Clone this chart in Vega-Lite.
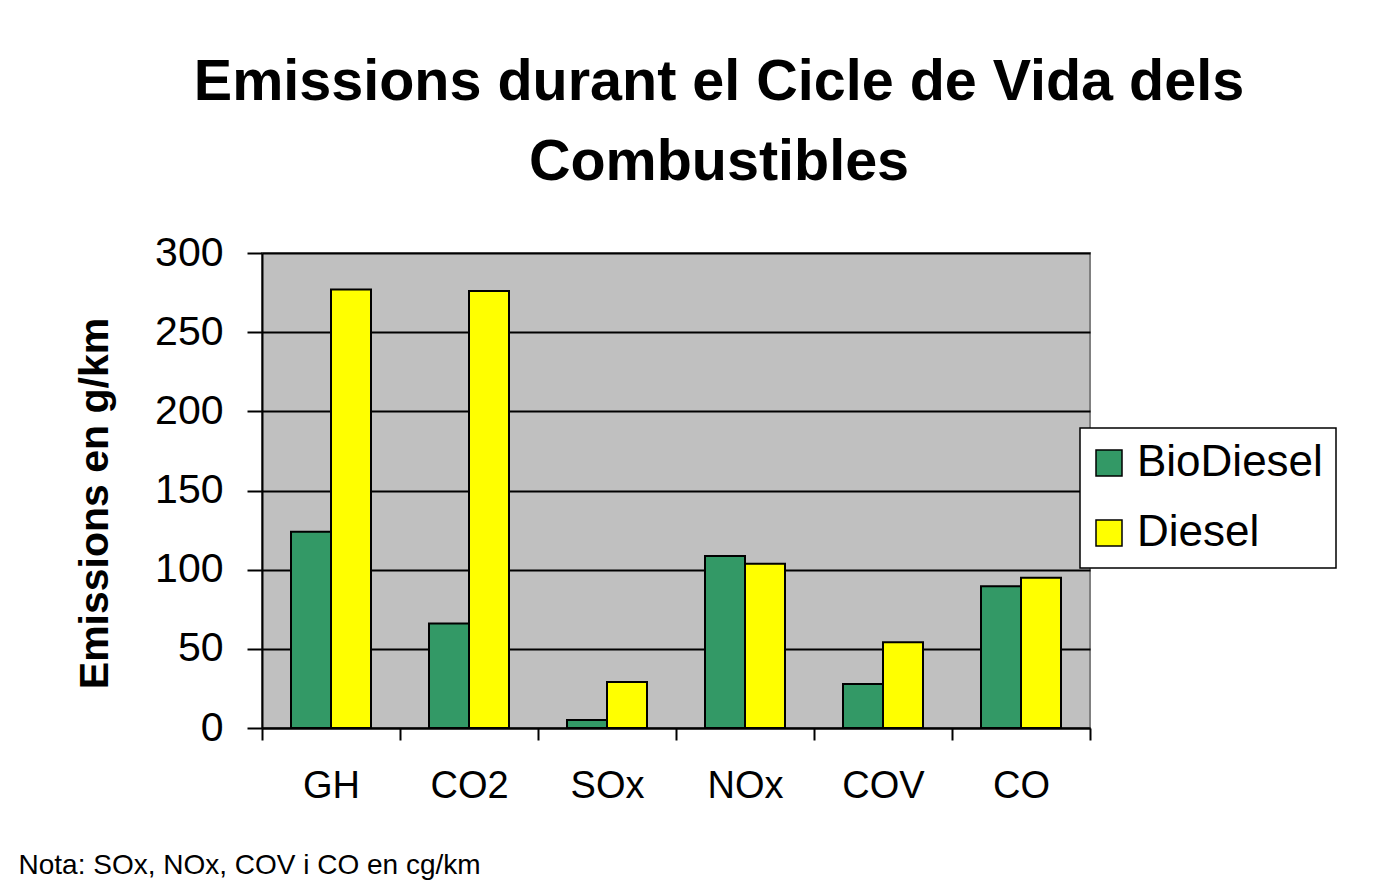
{
  "$schema": "https://vega.github.io/schema/vega-lite/v6.json",
  "width": 828,
  "height": 475,
  "autosize": {"type": "none"},
  "padding": {"left": 262, "top": 253, "right": 309, "bottom": 163},
  "background": "white",
  "title": {
    "text": ["Emissions durant el Cicle de Vida dels", "Combustibles"],
    "font": "Liberation Sans",
    "fontSize": 57.5,
    "fontWeight": "bold",
    "color": "black",
    "lineHeight": 80,
    "anchor": "middle",
    "frame": "group",
    "dx": 43,
    "offset": 40
  },
  "data": {
    "values": [
      {"pollutant": "GH", "fuel": "BioDiesel", "value": 124},
      {"pollutant": "GH", "fuel": "Diesel", "value": 277},
      {"pollutant": "CO2", "fuel": "BioDiesel", "value": 66},
      {"pollutant": "CO2", "fuel": "Diesel", "value": 276},
      {"pollutant": "SOx", "fuel": "BioDiesel", "value": 5},
      {"pollutant": "SOx", "fuel": "Diesel", "value": 29},
      {"pollutant": "NOx", "fuel": "BioDiesel", "value": 108.6},
      {"pollutant": "NOx", "fuel": "Diesel", "value": 103.7},
      {"pollutant": "COV", "fuel": "BioDiesel", "value": 27.8},
      {"pollutant": "COV", "fuel": "Diesel", "value": 54.2},
      {"pollutant": "CO", "fuel": "BioDiesel", "value": 89.6},
      {"pollutant": "CO", "fuel": "Diesel", "value": 94.9}
    ]
  },
  "mark": {"type": "bar", "stroke": "black", "strokeWidth": 2},
  "encoding": {
    "x": {
      "field": "pollutant",
      "type": "nominal",
      "sort": ["GH", "CO2", "SOx", "NOx", "COV", "CO"],
      "scale": {"paddingInner": 0, "paddingOuter": 0},
      "axis": {
        "title": "Nota: SOx, NOx, COV i CO en cg/km",
        "titleFont": "Liberation Sans",
        "titleFontSize": 28,
        "titleFontWeight": "normal",
        "titleColor": "black",
        "titleAlign": "left",
        "titleAnchor": "start",
        "titleBaseline": "alphabetic",
        "titleX": -244,
        "titleY": 145,
        "labelAngle": 0,
        "labelFont": "Liberation Sans",
        "labelFontSize": 38,
        "labelColor": "black",
        "labelPadding": 27,
        "tickBand": "extent",
        "tickSize": 12,
        "tickColor": "black",
        "tickWidth": 2,
        "domainColor": "black",
        "domainWidth": 2,
        "grid": false
      }
    },
    "xOffset": {
      "field": "fuel",
      "type": "nominal",
      "sort": ["BioDiesel", "Diesel"],
      "scale": {"paddingInner": 0, "paddingOuter": 0.725}
    },
    "y": {
      "field": "value",
      "type": "quantitative",
      "scale": {"domain": [0, 300], "nice": false},
      "axis": {
        "title": "Emissions en g/km",
        "titleFont": "Liberation Sans",
        "titleFontSize": 41,
        "titleFontWeight": "bold",
        "titleColor": "black",
        "titlePadding": 38,
        "titleY": 250,
        "values": [0, 50, 100, 150, 200, 250, 300],
        "labelFont": "Liberation Sans",
        "labelFontSize": 41,
        "labelColor": "black",
        "labelPadding": 24,
        "tickSize": 15,
        "tickColor": "black",
        "tickWidth": 2,
        "domainColor": "black",
        "domainWidth": 2,
        "grid": true,
        "gridColor": "black",
        "gridWidth": 2,
        "gridOpacity": 1
      }
    },
    "color": {
      "field": "fuel",
      "type": "nominal",
      "scale": {"domain": ["BioDiesel", "Diesel"], "range": ["#339966", "#FFFF00"]},
      "legend": {
        "title": null,
        "orient": "none",
        "legendX": 818,
        "legendY": 175,
        "direction": "vertical",
        "fillColor": "white",
        "strokeColor": "black",
        "padding": 13,
        "symbolType": "square",
        "symbolSize": 676,
        "symbolOffset": -6,
        "symbolStrokeColor": "black",
        "symbolStrokeWidth": 1.5,
        "symbolOpacity": 1,
        "labelFont": "Liberation Sans",
        "labelFontSize": 44,
        "labelColor": "black",
        "labelOffset": 6,
        "labelLimit": 400,
        "rowPadding": 26,
        "encode": {"legend": {"update": {"strokeWidth": {"value": 1.5}}}}
      }
    }
  },
  "config": {
    "view": {"fill": "#C0C0C0", "stroke": "#808080", "strokeWidth": 2}
  }
}
